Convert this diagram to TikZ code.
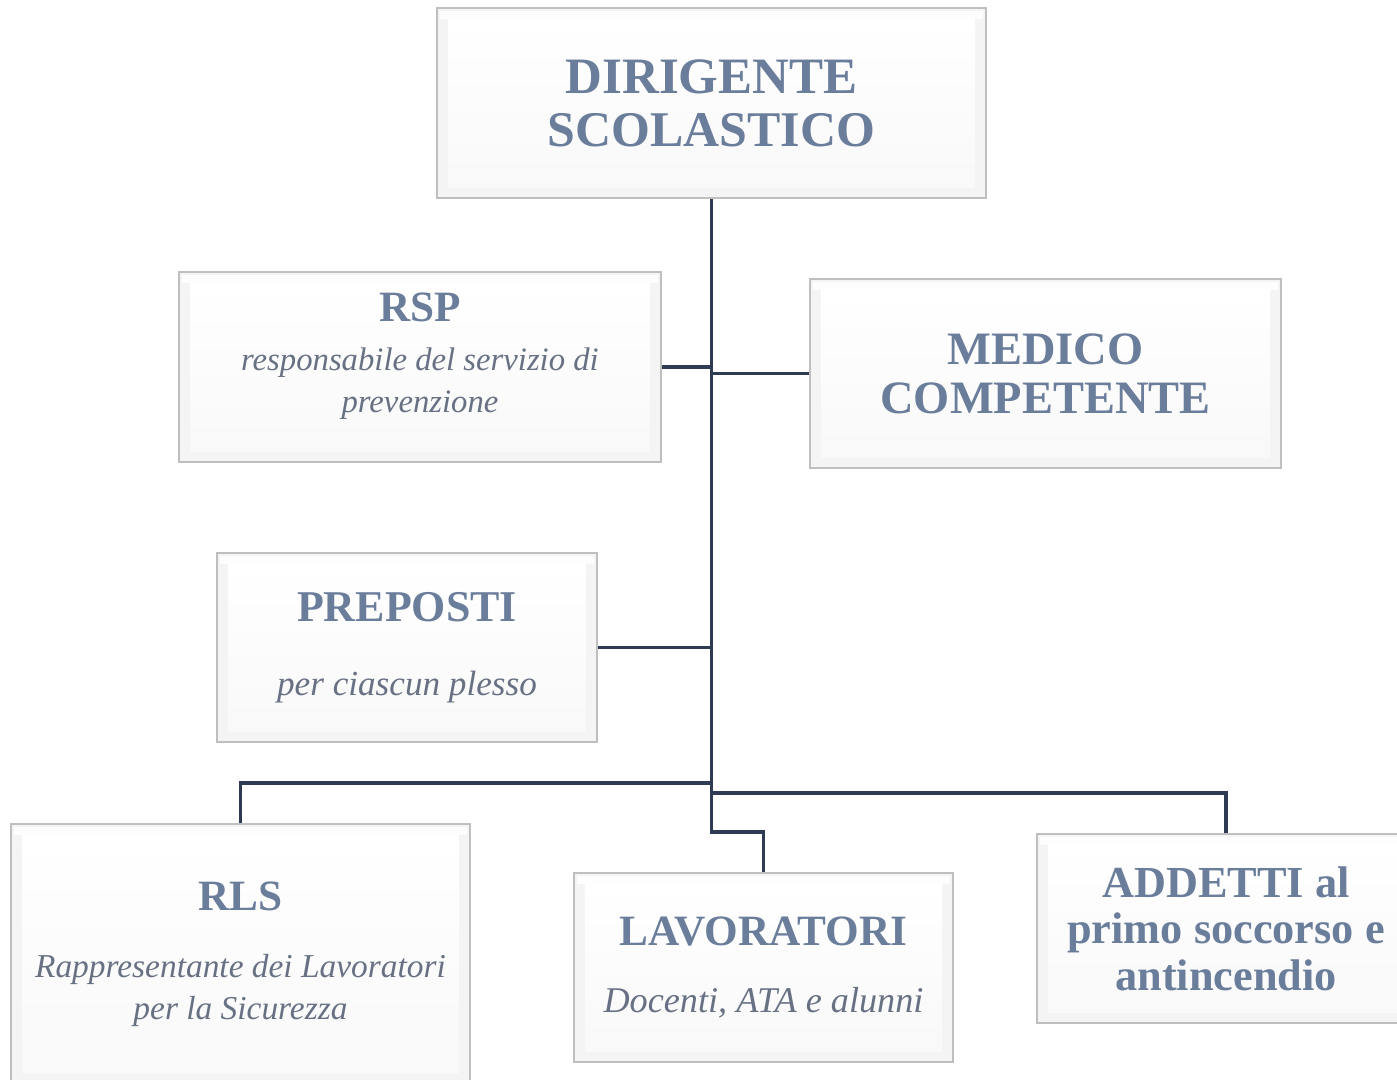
\documentclass[tikz,border=0pt]{standalone}
\usepackage{fontspec}
\setmainfont{Liberation Serif}
\usepackage{xcolor}
\usepackage{tikz}
\usetikzlibrary{positioning, calc}
\definecolor{linenavy}{HTML}{2E3B52}
\definecolor{titleblue}{HTML}{6A7D9B}
\definecolor{subgray}{HTML}{687184}
\newcommand{\ttl}[2]{{\fontsize{#1}{#1}\selectfont\bfseries\color{titleblue}#2}}
\newcommand{\subtxt}[1][10]{\fontsize{#1}{14}\selectfont\itshape\color{subgray}}
\tikzset{
  orgbox/.style={rectangle, draw=gray!50, line width=0.6pt, align=center, inner sep=2pt,
                 path picture={
                   \fill[gray!9] (path picture bounding box.south west) rectangle (path picture bounding box.north east);
                   \fill[white!60!gray!4] ([shift={(0.03cm,-0.03cm)}]path picture bounding box.north west) rectangle
                     ([shift={(-0.03cm,-0.11cm)}]path picture bounding box.north east);
                   \shade[top color=white, bottom color=gray!5]
                     ([shift={(0.11cm,0.11cm)}]path picture bounding box.south west) rectangle
                     ([shift={(-0.11cm,-0.11cm)}]path picture bounding box.north east);
                 }},
  link/.style={draw=linenavy, line width=1pt}
}
\begin{document}
\begin{tikzpicture}[x=0.01cm, y=-0.01cm]
  \useasboundingbox (0,0) rectangle (1397,1080);

  \node[orgbox, minimum width=5.49cm, minimum height=1.90cm] (dir) at (711.5,103)
    {\ttl{14.5}{DIRIGENTE}\\[3pt]\ttl{14.2}{SCOLASTICO}};
  \node[orgbox, minimum width=4.82cm, minimum height=1.90cm] (rsp) at (420,367)
    {\ttl{12.3}{RSP}\\[2pt]\subtxt[9.3] responsabile del servizio di\\\subtxt[9.3] prevenzione\\[-4pt]\mbox{}};
  \node[orgbox, minimum width=4.71cm, minimum height=1.89cm] (med) at (1045.5,373.5)
    {\ttl{13.2}{MEDICO}\\[2pt]\ttl{13.2}{COMPETENTE}};
  \node[orgbox, minimum width=3.80cm, minimum height=1.89cm] (prep) at (407,647.5)
    {\ttl{12.5}{PREPOSTI}\\[9pt]\subtxt per ciascun plesso};
  \node[orgbox, minimum width=4.58cm, minimum height=2.60cm] (rls) at (240.5,954)
    {\ttl{12.3}{RLS}\\[7pt]\subtxt[9.5] Rappresentante dei Lavoratori\\\subtxt[9.5] per la Sicurezza};
  \node[orgbox, minimum width=3.79cm, minimum height=1.89cm] (lav) at (763.5,967.5)
    {\ttl{12.3}{LAVORATORI}\\[7pt]\subtxt[10.3] Docenti, ATA e alunni};
  \node[orgbox, minimum width=3.78cm, minimum height=1.89cm] (add) at (1226,928.5)
    {\ttl{12.6}{ADDETTI al}\\[1.2pt]\ttl{12.6}{primo soccorso e}\\[1.2pt]\ttl{12.6}{antincendio}};

  % junctions on the trunk
  \coordinate (jrls) at (711,783);
  \coordinate (jadd) at (711,793);

  \draw[link] (dir.south) |- ($(lav.north)+(0,-40)$) -- (lav.north);
  \draw[link] (rsp.east) -- (rsp.east -| dir.south);
  \draw[link] (med.west) -- (med.west -| dir.south);
  \draw[link] (prep.east) -- (prep.east -| dir.south);
  \draw[link] (jrls) -| (rls.north);
  \draw[link] (jadd) -| (add.north);
\end{tikzpicture}
\end{document}
